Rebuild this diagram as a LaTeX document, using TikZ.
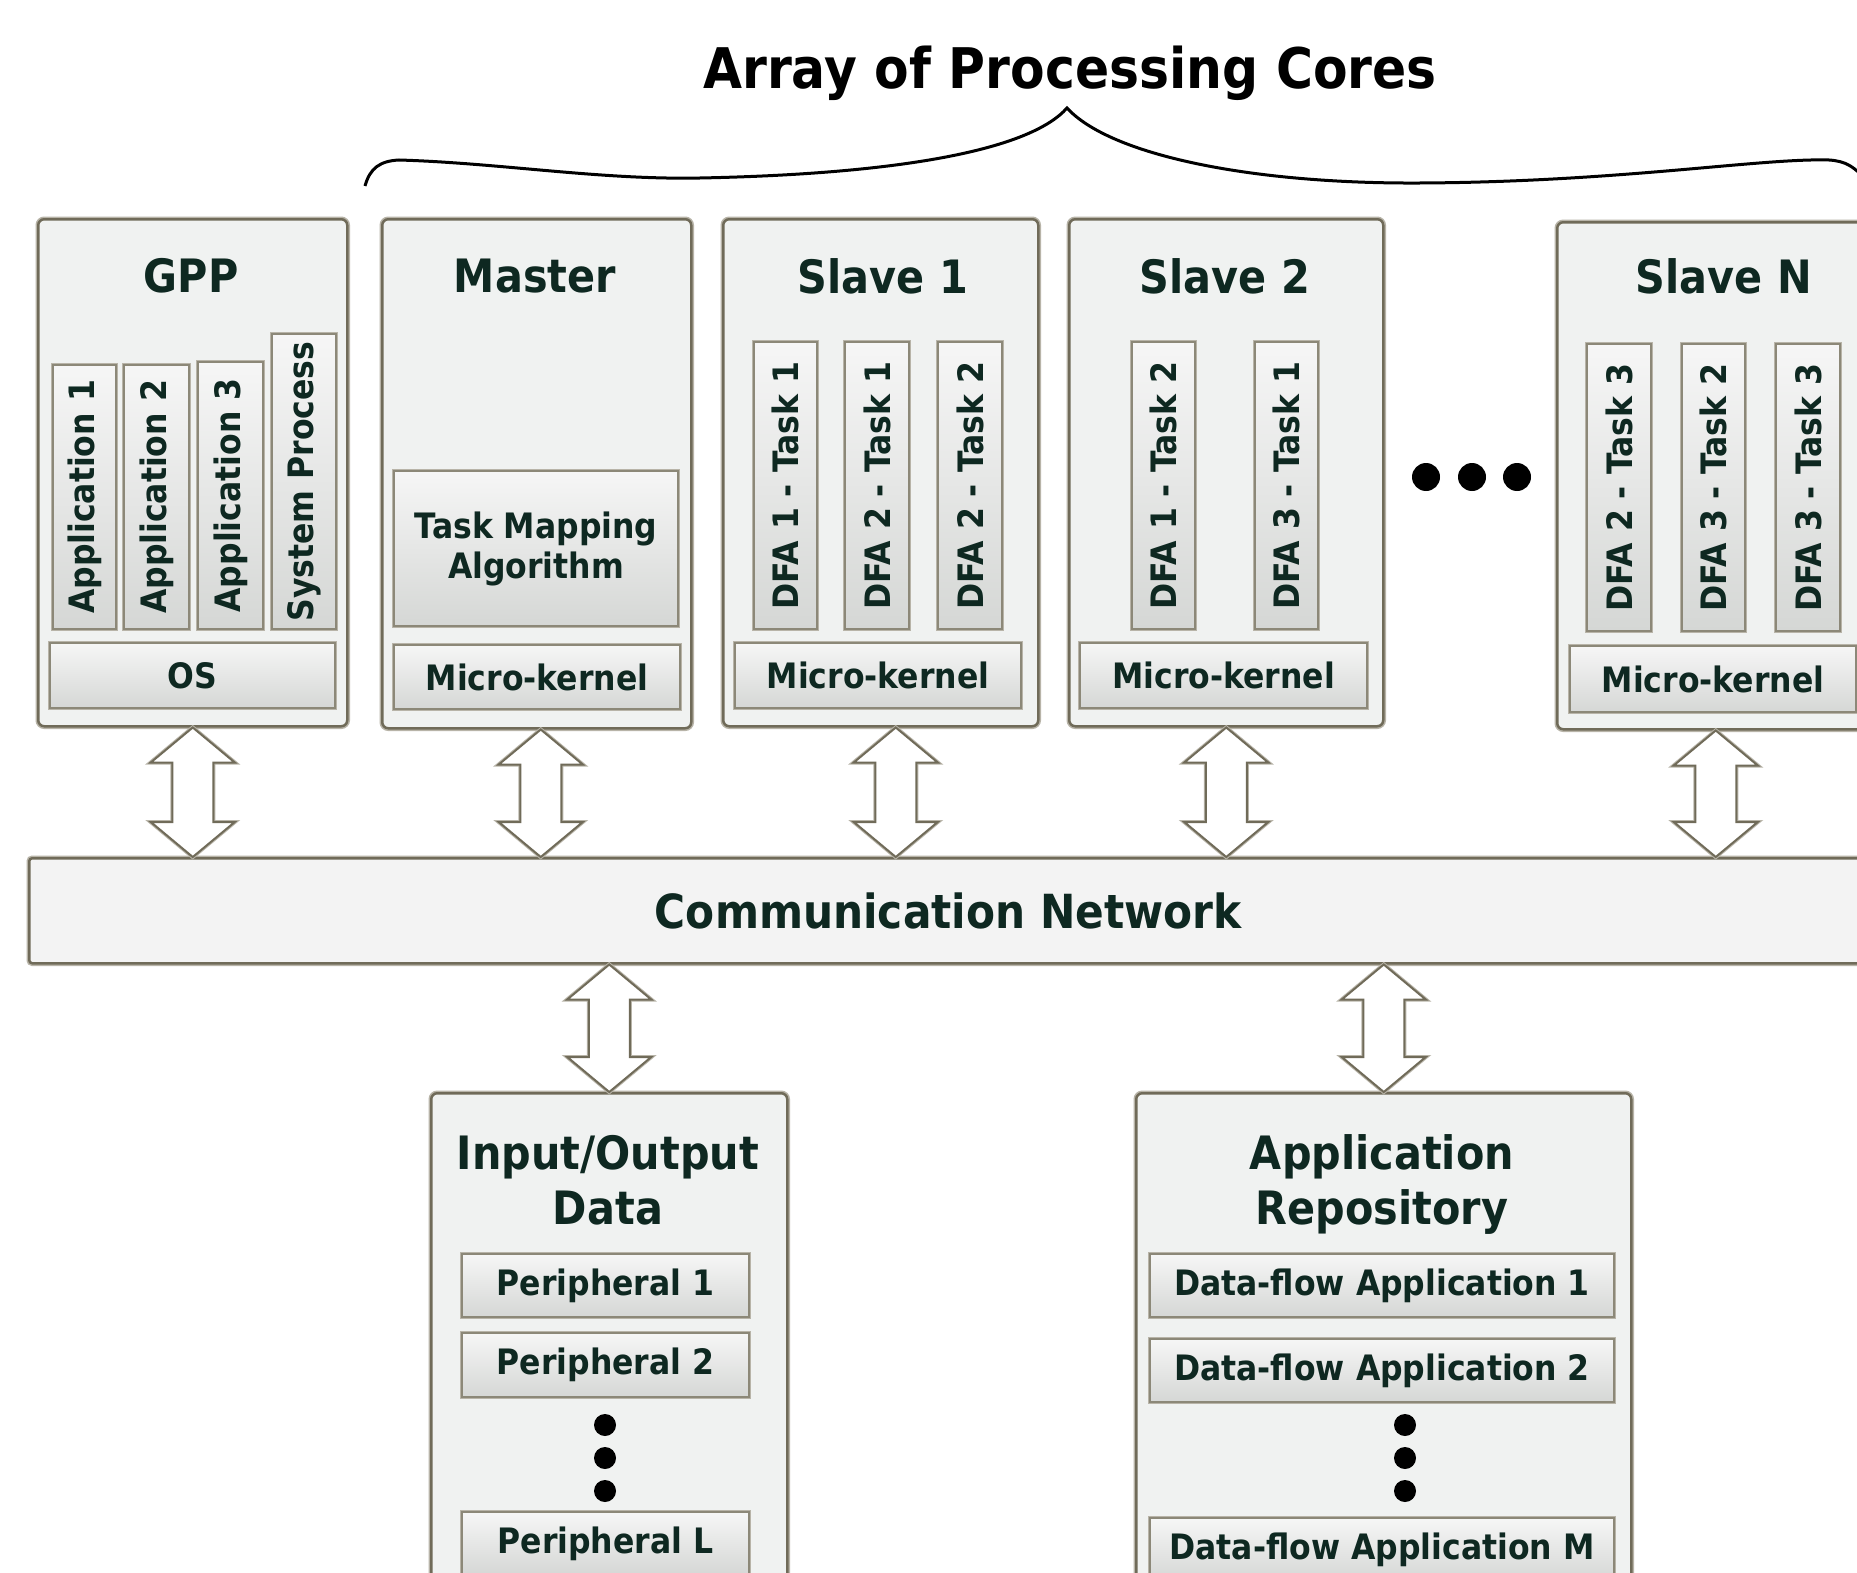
\documentclass[tikz,border=0pt]{standalone}
\usepackage{fontspec}
\setmainfont{DejaVu Sans}[FakeStretch=0.9]
\usetikzlibrary{calc}

\definecolor{ink}{RGB}{14,40,33}
\definecolor{frame}{RGB}{112,107,89}
\definecolor{framelight}{RGB}{184,180,168}
\definecolor{subframe}{RGB}{140,136,120}
\definecolor{panel}{RGB}{240,242,241}
\definecolor{netfill}{RGB}{243,243,243}
\definecolor{shadetop}{RGB}{246,246,246}
\definecolor{shadebot}{RGB}{213,215,213}

\tikzset{
  core/.style={preaction={draw=framelight, line width=5.5},
    draw=frame, line width=2.5, fill=panel, rounded corners=6,
    anchor=north west, inner sep=0},
  part/.style={preaction={draw=framelight, line width=4.5},
    draw=subframe, line width=2, top color=shadetop,
    bottom color=shadebot, anchor=north west, inner sep=0, text=ink,
    font=\bfseries\fontsize{35}{42}\selectfont, align=center},
  head/.style={text=ink, font=\bfseries\fontsize{46}{55}\selectfont,
    align=center, inner sep=0},
  bigdot/.style={circle, fill=black, inner sep=0, minimum size=#1},
  bigdot/.default=24,
  % hollow two-headed arrow between the start and the target point
  dblarrow/.style={preaction={draw=framelight, line width=4},
    draw=frame, line width=2, fill=white, line join=miter,
    to path={let \p1=(\tikztostart), \p2=(\tikztotarget) in
      (\x1,\y1) -- (\x1+42pt,\y1-35pt) -- (\x1+20.5pt,\y1-35pt)
      -- (\x1+20.5pt,\y2+35pt) -- (\x1+42pt,\y2+35pt) -- (\x1,\y2)
      -- (\x1-42pt,\y2+35pt) -- (\x1-20.5pt,\y2+35pt)
      -- (\x1-20.5pt,\y1-35pt) -- (\x1-42pt,\y1-35pt) -- cycle}}
}

\begin{document}
\begin{tikzpicture}[x=1pt, y=-1pt]
\useasboundingbox (0,0) rectangle (1857,1573);
\clip (0,0) rectangle (1857,1573);
\fill[white] (0,0) rectangle (1857,1573);

% ---- title and brace over the cores
\node[text=black, font=\bfseries\fontsize{56}{60}\selectfont, inner sep=0]
  (title) at (1070,73) {Array of Processing Cores};
\draw[line width=3, black]
  (365,186) .. controls (370,168) and (380,161) .. (399,160)
  .. controls (500,163) and (600,180) .. (700,178)
  .. controls (900,174) and (1030,150) .. (1067,108)
  .. controls (1110,155) and (1250,184) .. (1420,183)
  .. controls (1620,182) and (1760,158) .. (1829,160)
  .. controls (1845,161) and (1855,166) .. (1870,185);

% ---- processing cores
\node[core, minimum width=309, minimum height=507] (gpp) at (37,218) {};
\node[core, minimum width=309, minimum height=509] (master) at (381,218) {};
\node[core, minimum width=315, minimum height=507] (s1) at (722,218) {};
\node[core, minimum width=314, minimum height=507] (s2) at (1068,218) {};
\node[core, minimum width=315, minimum height=507] (sN) at (1556,221) {};

\node[head] (gppT) at (191,276) {GPP};
\node[head] (masterT) at (535,276) {Master};
\node[head] (s1T) at (883,276) {Slave 1};
\node[head] (s2T) at (1225,276) {Slave 2};
\node[head] (sNT) at (1724,276) {Slave N};

% GPP contents
\node[part, minimum width=63, minimum height=264] (app1) at (52,364) {\rotatebox{90}{Application 1}};
\node[part, minimum width=65, minimum height=264] (app2) at (123,364) {\rotatebox{90}{Application 2}};
\node[part, minimum width=65, minimum height=267] (app3) at (197,361) {\rotatebox{90}{Application 3}};
\node[part, minimum width=64, minimum height=295] (sysp) at (271,333) {\rotatebox{90}{System Process}};
\node[part, minimum width=285, minimum height=65] (os) at (49,642) {OS};

% Master contents
\node[part, minimum width=284, minimum height=155] (tma) at (393,470) {Task Mapping\\[-2pt]Algorithm};
\node[part, minimum width=286, minimum height=64] (mkM) at (393,644) {Micro-kernel};

% Slave 1 contents
\node[part, minimum width=63, minimum height=287] (s1a) at (753,341) {\rotatebox{90}{DFA 1 - Task 1}};
\node[part, minimum width=64, minimum height=287] (s1b) at (844,341) {\rotatebox{90}{DFA 2 - Task 1}};
\node[part, minimum width=64, minimum height=287] (s1c) at (937,341) {\rotatebox{90}{DFA 2 - Task 2}};
\node[part, minimum width=286, minimum height=65] (mk1) at (734,642) {Micro-kernel};

% Slave 2 contents
\node[part, minimum width=63, minimum height=287] (s2a) at (1131,341) {\rotatebox{90}{DFA 1 - Task 2}};
\node[part, minimum width=63, minimum height=287] (s2b) at (1254,341) {\rotatebox{90}{DFA 3 - Task 1}};
\node[part, minimum width=287, minimum height=65] (mk2) at (1079,642) {Micro-kernel};

% Slave N contents
\node[part, minimum width=64, minimum height=287] (sNa) at (1586,343) {\rotatebox{90}{DFA 2 - Task 3}};
\node[part, minimum width=63, minimum height=287] (sNb) at (1681,343) {\rotatebox{90}{DFA 3 - Task 2}};
\node[part, minimum width=64, minimum height=287] (sNc) at (1775,343) {\rotatebox{90}{DFA 3 - Task 3}};
\node[part, minimum width=286, minimum height=66] (mkN) at (1569,645) {Micro-kernel};

% further slaves
\node[bigdot=28] (e1) at (1426,477) {};
\node[bigdot=28] (e2) at (1472,477) {};
\node[bigdot=28] (e3) at (1517,477) {};

% ---- communication network
\node[core, rounded corners=3, fill=netfill, minimum width=1838, minimum height=105,
  text=ink, font=\bfseries\fontsize{47}{52}\selectfont] (net) at (28,857) {Communication Network};

% ---- input/output data
\node[core, minimum width=356, minimum height=600] (io) at (430,1092) {};
\node[head] (ioT) at (608,1180) {Input/Output\\Data};
\node[part, minimum width=287, minimum height=63] (per1) at (461,1253) {Peripheral 1};
\node[part, minimum width=287, minimum height=64] (per2) at (461,1332) {Peripheral 2};
\node[bigdot=22] (v1) at (605,1425) {};
\node[bigdot=22] (v2) at (605,1458) {};
\node[bigdot=22] (v3) at (605,1491) {};
\node[part, minimum width=287, minimum height=63] (perL) at (461,1511) {Peripheral L};

% ---- application repository
\node[core, minimum width=495, minimum height=600] (repo) at (1135,1092) {};
\node[head] (repoT) at (1382,1184) {Application\\Repository};
\node[part, minimum width=464, minimum height=63] (dfa1) at (1149,1253) {Data-flow Application 1};
\node[part, minimum width=464, minimum height=63] (dfa2) at (1149,1338) {Data-flow Application 2};
\node[bigdot=22] (w1) at (1405,1425) {};
\node[bigdot=22] (w2) at (1405,1458) {};
\node[bigdot=22] (w3) at (1405,1491) {};
\node[part, minimum width=464, minimum height=63] (dfaM) at (1149,1517) {Data-flow Application M};

% ---- links to the network
\coordinate (gppP) at (gpp.south);
\coordinate (masterP) at ([xshift=4pt]master.south);
\coordinate (s1P) at ([xshift=15pt]s1.south);
\coordinate (s2P) at (s2.south);
\coordinate (sNP) at ([xshift=1pt]sN.south);
\draw[dblarrow] (gppP) to (gppP |- net.north);
\draw[dblarrow] (masterP) to (masterP |- net.north);
\draw[dblarrow] (s1P) to (s1P |- net.north);
\draw[dblarrow] (s2P) to (s2P |- net.north);
\draw[dblarrow] (sNP) to (sNP |- net.north);
\draw[dblarrow] (net.south -| io.north) to (io.north);
\draw[dblarrow] (net.south -| repo.north) to (repo.north);
\end{tikzpicture}
\end{document}
